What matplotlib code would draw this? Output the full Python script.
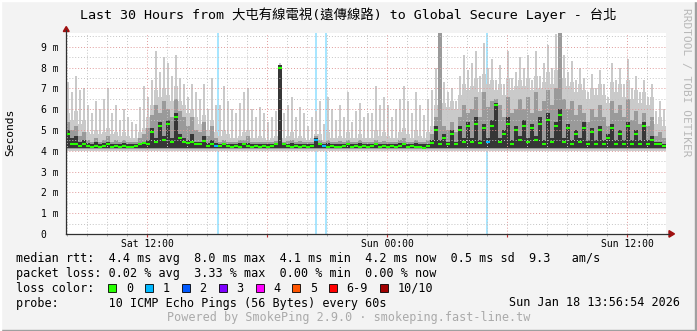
import numpy as np
import matplotlib
matplotlib.use('Agg')
import matplotlib.pyplot as plt
import matplotlib.dates as mdates
from matplotlib.patches import Rectangle, Polygon
from matplotlib.lines import Line2D
from matplotlib.ticker import MultipleLocator, FuncFormatter
from datetime import datetime

plt.rcParams['font.family'] = ['DejaVu Sans Mono', 'Noto Sans CJK TC']

W, H = 697, 331

# --- DATA (ms, one value per 12 minute bin, 30 hours) ---
START = datetime(2026, 1, 17, 7, 56, 54)
BIN_MIN = 12

# top of the light smoke spikes (max ping)
smoke_max = [
    7.3, 6.8, 7.6, 6.9, 7.0, 6.2, 5.8, 6.4, 6.0, 6.5,
    7.0, 5.8, 6.2, 5.5, 6.0, 5.6, 5.4, 5.3, 6.1, 7.1,
    6.6, 7.4, 8.8, 7.8, 8.5, 8.2, 7.6, 8.6, 7.5, 7.2,
    6.6, 7.2, 6.8, 6.5, 7.2, 6.0, 7.5, 6.2, 6.2, 7.1,
    6.4, 6.0, 5.8, 6.3, 6.8, 7.0, 6.0, 5.6, 6.1, 5.8,
    5.4, 5.6, 5.9, 8.2, 5.8, 6.2, 6.6, 5.6, 6.1, 5.8,
    5.2, 5.6, 5.9, 6.4, 5.3, 6.6, 6.0, 5.5, 6.2, 5.6,
    6.8, 5.4, 5.9, 6.3, 5.6, 5.8, 5.8, 7.1, 6.2, 6.6,
    6.2, 5.6, 6.0, 6.5, 7.1, 6.4, 5.8, 6.8, 6.2, 5.7,
    6.5, 6.9, 8.0, 9.7, 7.3, 6.8, 7.0, 6.4, 7.6, 8.6,
    7.9, 8.2, 8.8, 7.6, 9.2, 8.0, 8.4, 7.4, 8.1, 7.2,
    8.8, 7.5, 7.8, 8.5, 8.0, 8.6, 7.4, 8.8, 7.6, 8.2,
    9.1, 8.0, 9.6, 9.7, 8.6, 7.8, 8.3, 7.4, 8.0, 7.5,
    6.8, 7.7, 7.0, 7.9, 7.2, 6.6, 8.2, 7.4, 8.0, 7.2,
    8.4, 7.0, 7.6, 6.8, 7.4, 6.6, 7.2, 5.9, 6.4, 6.0,
]

# top of the dense part of the light smoke
smoke_body = [
    5.8, 5.5, 5.9, 5.3, 5.5, 4.9, 4.8, 5.0, 4.8, 4.9,
    5.1, 4.8, 4.9, 4.7, 4.9, 4.7, 4.6, 4.6, 4.9, 5.1,
    5.6, 6.2, 6.9, 6.6, 7.0, 6.7, 6.4, 7.1, 6.4, 6.2,
    5.8, 6.0, 5.6, 5.3, 5.7, 5.0, 5.5, 4.9, 4.7, 5.0,
    4.8, 4.6, 4.6, 4.7, 4.9, 5.0, 4.6, 4.6, 4.7, 4.6,
    4.5, 4.6, 4.7, 8.1, 4.6, 4.7, 4.9, 4.6, 4.7, 4.6,
    4.5, 4.6, 4.8, 4.8, 4.5, 4.9, 4.6, 4.6, 4.7, 4.6,
    4.9, 4.6, 4.6, 4.8, 4.6, 4.6, 4.6, 5.0, 4.7, 4.9,
    4.7, 4.6, 4.6, 4.9, 5.1, 4.8, 4.6, 5.0, 4.7, 4.6,
    4.9, 5.2, 6.2, 9.7, 6.3, 6.1, 6.4, 6.0, 6.7, 7.2,
    6.9, 7.1, 7.5, 6.8, 7.7, 7.2, 7.4, 6.9, 7.2, 6.7,
    7.5, 6.9, 7.1, 7.4, 7.1, 7.5, 6.9, 7.6, 7.0, 7.3,
    7.8, 7.2, 7.9, 9.7, 7.5, 7.1, 7.3, 6.8, 7.2, 6.9,
    6.5, 7.0, 6.7, 7.2, 6.7, 6.3, 7.3, 6.8, 7.2, 6.6,
    7.4, 6.5, 6.9, 6.3, 6.8, 6.2, 6.6, 5.3, 5.6, 5.2,
]

# top of the medium smoke
smoke_mid = [
    5.4, 5.0, 5.2, 4.7, 4.9, 4.5, 4.4, 4.6, 4.4, 4.5,
    4.7, 4.4, 4.5, 4.4, 4.5, 4.4, 4.4, 4.4, 4.6, 4.8,
    5.1, 5.7, 6.2, 5.8, 6.4, 6.0, 5.6, 6.5, 5.9, 5.6,
    5.2, 5.6, 5.0, 4.9, 5.4, 4.7, 5.2, 4.6, 4.4, 4.5,
    4.4, 4.4, 4.4, 4.5, 4.5, 4.7, 4.4, 4.4, 4.4, 4.4,
    4.4, 4.4, 4.45, 8.1, 4.4, 4.45, 4.5, 4.4, 4.45, 4.4,
    4.4, 4.4, 4.7, 4.5, 4.4, 4.5, 4.4, 4.4, 4.45, 4.4,
    4.5, 4.4, 4.4, 4.5, 4.4, 4.4, 4.4, 4.5, 4.4, 4.45,
    4.4, 4.4, 4.4, 4.5, 4.6, 4.4, 4.4, 4.5, 4.4, 4.4,
    4.5, 4.8, 5.6, 9.7, 5.2, 5.0, 5.4, 4.9, 5.6, 6.2,
    5.8, 6.0, 6.6, 5.6, 6.8, 6.1, 6.4, 6.5, 6.2, 5.6,
    6.6, 5.8, 6.0, 6.5, 6.0, 6.6, 5.8, 6.8, 5.9, 6.4,
    6.9, 6.2, 7.0, 9.7, 6.5, 6.0, 6.4, 5.7, 6.2, 5.8,
    5.4, 6.0, 5.6, 6.2, 5.6, 5.2, 6.4, 5.8, 6.2, 5.6,
    6.5, 5.5, 5.9, 5.3, 5.8, 5.2, 5.6, 4.7, 4.9, 4.6,
]

# top of the dark smoke (pings around the median)
smoke_dark = [
    5.0, 4.6, 4.7, 4.4, 4.5, 4.35, 4.3, 4.4, 4.3, 4.35,
    4.4, 4.3, 4.3, 4.3, 4.35, 4.3, 4.3, 4.3, 4.35, 4.4,
    4.5, 5.1, 4.6, 5.4, 4.7, 5.5, 4.6, 5.8, 4.8, 4.6,
    4.5, 4.8, 4.4, 4.4, 4.7, 4.35, 4.5, 4.35, 4.3, 4.35,
    4.3, 4.3, 4.3, 4.35, 4.3, 4.35, 4.3, 4.3, 4.3, 4.3,
    4.3, 4.3, 4.35, 8.1, 4.3, 4.3, 4.35, 4.3, 4.3, 4.3,
    4.3, 4.3, 4.6, 4.35, 4.3, 4.35, 4.3, 4.3, 4.3, 4.3,
    4.35, 4.3, 4.3, 4.35, 4.3, 4.3, 4.3, 4.35, 4.3, 4.3,
    4.3, 4.3, 4.3, 4.35, 4.35, 4.3, 4.3, 4.35, 4.3, 4.3,
    4.3, 4.5, 5.2, 4.5, 4.8, 4.4, 5.0, 4.4, 5.2, 4.6,
    5.4, 4.6, 5.6, 4.5, 5.3, 4.6, 5.5, 6.3, 4.6, 5.0,
    5.6, 4.5, 5.2, 4.7, 5.5, 4.6, 5.3, 4.7, 5.6, 4.5,
    5.8, 4.6, 5.4, 6.0, 4.6, 5.3, 4.5, 5.0, 4.6, 5.4,
    4.5, 5.1, 4.5, 5.2, 4.5, 4.8, 5.3, 4.5, 5.0, 4.5,
    5.4, 4.5, 5.0, 4.5, 5.4, 4.5, 4.7, 4.4, 4.4, 4.3,
]

median_rtt = [
    4.8, 4.3, 4.3, 4.25, 4.3, 4.25, 4.2, 4.25, 4.2, 4.25,
    4.3, 4.2, 4.25, 4.2, 4.25, 4.2, 4.2, 4.25, 4.3, 4.35,
    4.3, 4.9, 4.4, 5.2, 4.5, 5.3, 4.4, 5.6, 4.6, 4.4,
    4.35, 4.4, 4.3, 4.3, 4.45, 4.25, 4.3, 4.25, 4.25, 4.3,
    4.25, 4.2, 4.25, 4.2, 4.3, 4.25, 4.2, 4.25, 4.2, 4.25,
    4.2, 4.25, 4.3, 8.0, 4.3, 4.25, 4.2, 4.25, 4.2, 4.25,
    4.2, 4.25, 4.5, 4.3, 4.25, 4.2, 4.25, 4.2, 4.2, 4.25,
    4.3, 4.2, 4.25, 4.2, 4.25, 4.2, 4.25, 4.3, 4.2, 4.25,
    4.2, 4.25, 4.2, 4.25, 4.3, 4.2, 4.25, 4.2, 4.2, 4.15,
    4.25, 4.35, 5.0, 4.3, 4.6, 4.3, 4.8, 4.3, 5.0, 4.4,
    5.2, 4.4, 5.3, 4.35, 5.1, 4.4, 5.2, 6.2, 4.4, 4.8,
    5.3, 4.3, 5.0, 4.5, 5.2, 4.4, 5.1, 4.5, 5.3, 4.3,
    5.5, 4.4, 5.2, 5.7, 4.4, 5.1, 4.3, 4.8, 4.4, 5.1,
    4.3, 4.9, 4.3, 5.0, 4.3, 4.6, 5.1, 4.3, 4.8, 4.3,
    5.2, 4.3, 4.8, 4.3, 5.2, 4.3, 4.5, 4.3, 4.3, 4.25,
]

smoke_floor = [3.98, 4.08, 4.15]   # bottom of light / medium / dark smoke

loss_times = ['2026-01-17 15:32', '2026-01-17 20:26', '2026-01-17 20:56', '2026-01-18 04:59']
loss_counts = [1, 1, 1, 1]

loss_labels = ['0', '1', '2', '3', '4', '5', '6-9', '10/10']
loss_colors = ['#26ff00', '#00b8ff', '#0059ff', '#7e00ff', '#ff00ff', '#ff5500', '#ff0000', '#a10000']

title = "Last 30 Hours from 大屯有線電視(遠傳線路) to Global Secure Layer - 台北"
line_rtt = "median rtt:  4.4 ms avg  8.0 ms max  4.1 ms min  4.2 ms now  0.5 ms sd  9.3   am/s"
line_loss = "packet loss: 0.02 % avg  3.33 % max  0.00 % min  0.00 % now"
line_probe = "probe:       10 ICMP Echo Pings (56 Bytes) every 60s"
stamp = "Sun Jan 18 13:56:54 2026"
footer = "Powered by SmokePing 2.9.0 · smokeping.fast-line.tw"


def P(x, y):
    # pixel position -> figure fraction
    return x / W, 1 - y / H


def loss_index(n):
    if n >= 10:
        return 7
    if n >= 6:
        return 6
    return n


fig = plt.figure(figsize=(W / 100, H / 100), dpi=100, facecolor='#f3f3f3')
ax = fig.add_axes([66 / W, 1 - 233.9 / H, 600 / W, 200.9 / H])
ax.set_facecolor('white')

bin_days = BIN_MIN / 1440.0
t0 = mdates.date2num(START)
n = len(median_rtt)
t = t0 + np.arange(n) * bin_days

# loss markers (full height)
med_colors = [loss_colors[0]] * n
for ts, cnt in zip(loss_times, loss_counts):
    tn = mdates.date2num(datetime.strptime(ts, '%Y-%m-%d %H:%M'))
    ax.axvline(tn, color=loss_colors[loss_index(cnt)], alpha=0.35, lw=1.4, zorder=0.8)
    k = int((tn - t0) / bin_days)
    med_colors[k] = loss_colors[loss_index(cnt)]

# smoke: thin spikes up to the max ping, then the dense layers
light = '#cacaca'
body = np.array(smoke_body)
peak = np.array(smoke_max)
ax.bar(t + bin_days * 0.5, peak - body, bottom=body, width=bin_days * 0.55,
       color=light, linewidth=0, zorder=1)
for top, fl, col in [(smoke_body, smoke_floor[0], light),
                     (smoke_mid, smoke_floor[1], '#9a9a9a'),
                     (smoke_dark, smoke_floor[2], '#363636')]:
    top = np.array(top)
    ax.bar(t, top - fl, bottom=fl, width=bin_days, align='edge',
           color=col, linewidth=0, zorder=1)

ax.hlines(median_rtt, t, t + bin_days, colors=med_colors, linewidth=1.5, zorder=3)

ax.set_xlim(t0, t0 + 30 / 24)
ax.set_ylim(0, 9.66)

# grid
ax.set_axisbelow(False)
ax.yaxis.set_minor_locator(MultipleLocator(0.5))
ax.set_yticks(range(10))
ax.set_yticklabels([f"{v} m" if v else "0  " for v in range(10)])
ax.xaxis.set_major_locator(mdates.HourLocator(byhour=[0, 6, 12, 18]))
ax.xaxis.set_minor_locator(mdates.HourLocator())


def xfmt(v, pos):
    d = mdates.num2date(v)
    return d.strftime('%a %H:%M') if d.hour in (0, 12) else ''


ax.xaxis.set_major_formatter(FuncFormatter(xfmt))
ax.grid(which='major', color='#e09a9a', linestyle=(0, (1, 2)), linewidth=0.7)
ax.grid(which='minor', color='#c4c4c4', linestyle=(0, (1, 2)), linewidth=0.7)

ax.tick_params(axis='y', which='both', length=0, pad=5, labelsize=7, colors='#000000')
ax.tick_params(axis='x', which='major', length=2.2, direction='out', color='#c03030',
               pad=1.5, labelsize=7)
ax.tick_params(axis='x', which='minor', length=1.5, direction='out', color='#a0a0a0')
for s in ax.spines.values():
    s.set_visible(False)

# axis lines with arrows
fig.add_artist(Line2D([P(66, 0)[0]] * 2, [P(0, 234)[1], P(0, 30)[1]], color='#303030', lw=0.9))
fig.add_artist(Line2D([P(66, 0)[0], P(669, 0)[0]], [P(0, 233.9)[1]] * 2, color='#303030', lw=0.9))
fig.add_artist(Polygon([P(63.3, 31.5), P(69.2, 31.5), P(66.25, 26.5)], closed=True,
                       color='#a01010', transform=fig.transFigure))
fig.add_artist(Polygon([P(669, 230.6), P(669, 237.2), P(674.5, 233.9)], closed=True,
                       color='#a01010', transform=fig.transFigure))

# texts
fig.text(*P(348.5, 15), title, ha='center', va='center', fontsize=9.6)
fig.text(*P(10, 132), "Seconds", rotation=90, ha='center', va='center', fontsize=8.1)
fig.text(*P(686, 82), "RRDTOOL / TOBI OETIKER", rotation=270, ha='center', va='center',
         fontsize=8, color='#b8b8b8')

fs = 8.5
fig.text(*P(16, 258.5), line_rtt, va='center', fontsize=fs)
fig.text(*P(16, 273), line_loss, va='center', fontsize=fs)
fig.text(*P(16, 288), "loss color:", va='center', fontsize=fs)
fig.text(*P(16, 303), line_probe, va='center', fontsize=fs)
fig.text(*P(680, 303), stamp, va='center', ha='right', fontsize=fs)
fig.text(*P(348.5, 318), footer, va='center', ha='center', fontsize=fs, color='#aaaaaa')

# loss colour legend
cw = 7.1
x0 = 108.4
for lab, col in zip(loss_labels, loss_colors):
    bx, by = P(x0, 292)
    fig.add_artist(Rectangle((bx, by), 8 / W, 8 / H, facecolor=col, edgecolor='black',
                             linewidth=0.6, transform=fig.transFigure))
    lx = x0 + 17.5
    fig.text(*P(lx, 288), lab, va='center', fontsize=fs)
    x0 = lx + len(lab) * cw + 12.2

# frame
fig.add_artist(Rectangle(P(0, 331), 697 / W, 1.5 / H, color='#a0a0a0', transform=fig.transFigure))
fig.add_artist(Rectangle(P(694.5, 331), 2.5 / W, 331 / H, color='#a0a0a0', transform=fig.transFigure))
fig.add_artist(Rectangle(P(0, 331), 1.2 / W, 331 / H, color='#ffffff', transform=fig.transFigure))
fig.add_artist(Rectangle(P(0, 1.2), 697 / W, 1.2 / H, color='#ffffff', transform=fig.transFigure))

fig.savefig('out.png', dpi=100, facecolor=fig.get_facecolor())
